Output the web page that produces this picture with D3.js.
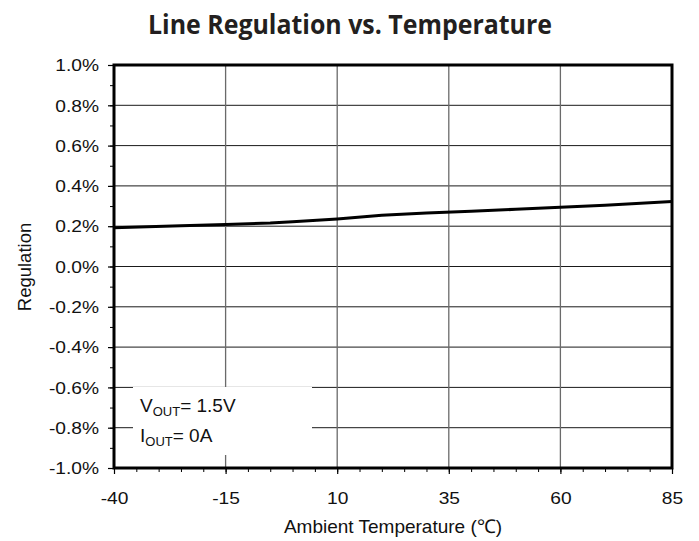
<!DOCTYPE html>
<html><head><meta charset="utf-8">
<script src="https://cdn.jsdelivr.net/npm/d3@7/dist/d3.min.js"></script>
<style>body{margin:0;background:#fff}svg{display:block}</style>
</head><body>
<svg id="c" width="699" height="541"></svg>
<script>
const temps = [-40, -25, -15, -5, 0, 10, 20, 30, 40, 50, 60, 70, 85];
const regulation = [0.192, 0.202, 0.209, 0.216, 0.222, 0.236, 0.254, 0.266, 0.274, 0.284, 0.294, 0.304, 0.322];
const xTicks = [-40, -15, 10, 35, 60, 85];
const xTickLabels = ["-40", "-15", "10", "35", "60", "85"];
const yTicks = [1.0, 0.8, 0.6, 0.4, 0.2, 0.0, -0.2, -0.4, -0.6, -0.8, -1.0];
const yTickLabels = ["1.0%", "0.8%", "0.6%", "0.4%", "0.2%", "0.0%", "-0.2%", "-0.4%", "-0.6%", "-0.8%", "-1.0%"];
const titleText = "Line Regulation vs. Temperature";
const xTitle = "Ambient Temperature (\u2103)";
const yTitle = "Regulation";

const L = 114, T = 65, W = 558, H = 403;
const svg = d3.select("#c");
const x = d3.scaleLinear().domain([-40, 85]).range([L, L + W]);
const y = d3.scaleLinear().domain([-1, 1]).range([T + H, T]);
const SX = 1.2;

// title
svg.append("text").attr("x", 350).attr("y", 34).attr("text-anchor", "middle")
  .attr("font-family", "Open Sans, sans-serif").attr("font-weight", 700).attr("font-size", 26)
  .attr("fill", "#231f20").attr("textLength", 404).attr("lengthAdjust", "spacingAndGlyphs")
  .text(titleText);

// grid
const g = svg.append("g");
g.selectAll("line.h").data(yTicks.filter(d => Math.abs(d) < 0.99)).join("line")
  .attr("x1", L).attr("x2", L + W).attr("y1", d => y(d)).attr("y2", d => y(d))
  .attr("stroke", "#1a1a1a").attr("stroke-width", 1);
g.selectAll("line.v").data(xTicks.filter(d => d > -40 && d < 85)).join("line")
  .attr("y1", T).attr("y2", T + H).attr("x1", d => x(d)).attr("x2", d => x(d))
  .attr("stroke", "#6a6a6a").attr("stroke-width", 1.3);

// legend box (white)
svg.append("rect").attr("x", 133).attr("y", 387).attr("width", 179).attr("height", 68).attr("fill", "#fff");
const leg = svg.append("g").attr("font-family", "Liberation Sans, Arial, sans-serif").attr("fill", "#111");
const t1 = leg.append("text").attr("x", 140).attr("y", 412).attr("font-size", 19);
t1.append("tspan").text("V");
t1.append("tspan").attr("font-size", 13).attr("dy", 4).text("OUT");
t1.append("tspan").attr("dy", -4).text("= 1.5V");
const t2 = leg.append("text").attr("x", 140).attr("y", 442).attr("font-size", 19);
t2.append("tspan").text("I");
t2.append("tspan").attr("font-size", 13).attr("dy", 4).text("OUT");
t2.append("tspan").attr("dy", -4).text("= 0A");

// data line
svg.append("path").datum(temps.map((t, i) => [t, regulation[i]]))
  .attr("d", d3.line().x(d => x(d[0])).y(d => y(d[1])))
  .attr("fill", "none").attr("stroke", "#000").attr("stroke-width", 3).attr("stroke-linejoin", "round");

// axes: minor ticks
const yMinor = d3.range(-10, 11).map(i => i / 10);
svg.append("g").attr("transform", `translate(${L},0)`)
  .call(d3.axisLeft(y).tickValues(yMinor).tickSize(4).tickFormat(""))
  .call(s => s.select(".domain").remove())
  .selectAll("line").attr("stroke", "#000").attr("stroke-width", 1);
const xMinor = d3.range(-40, 86, 5);
svg.append("g").attr("transform", `translate(0,${T + H})`)
  .call(d3.axisBottom(x).tickValues(xMinor).tickSize(4).tickFormat(""))
  .call(s => s.select(".domain").remove())
  .selectAll("line").attr("stroke", "#000").attr("stroke-width", 1);

// major axes
const ya = svg.append("g").attr("transform", `translate(${L},0)`)
  .call(d3.axisLeft(y).tickValues(yTicks).tickSize(6).tickPadding(0).tickFormat((d, i) => yTickLabels[i]));
ya.select(".domain").remove();
ya.selectAll("line").attr("stroke", "#000").attr("stroke-width", 1.2);
ya.selectAll("text").attr("x", -15 / SX).attr("dy", "0.36em").attr("transform", `scale(${SX},1)`)
  .attr("font-family", "Liberation Sans, Arial, sans-serif").attr("font-size", 16).attr("fill", "#111");

const xa = svg.append("g").attr("transform", `translate(0,${T + H})`)
  .call(d3.axisBottom(x).tickValues(xTicks).tickSize(6).tickFormat((d, i) => xTickLabels[i]));
xa.select(".domain").remove();
xa.selectAll("line").attr("stroke", "#000").attr("stroke-width", 1.2);
xa.selectAll("text").attr("y", 36).attr("dy", 0).attr("transform", `scale(${SX},1)`)
  .attr("font-family", "Liberation Sans, Arial, sans-serif").attr("font-size", 16).attr("fill", "#111");

// frame
svg.append("rect").attr("x", L).attr("y", T).attr("width", W).attr("height", H)
  .attr("fill", "none").attr("stroke", "#000").attr("stroke-width", 3);

// axis titles
svg.append("text").attr("x", 393).attr("y", 533).attr("text-anchor", "middle")
  .attr("font-family", "Liberation Sans, Arial, sans-serif").attr("font-size", 19).attr("fill", "#111")
  .text(xTitle);
svg.append("text").attr("transform", `translate(31,267) rotate(-90)`).attr("text-anchor", "middle")
  .attr("font-family", "Liberation Sans, Arial, sans-serif").attr("font-size", 18.5).attr("fill", "#111")
  .text(yTitle);
</script>
</body></html>
